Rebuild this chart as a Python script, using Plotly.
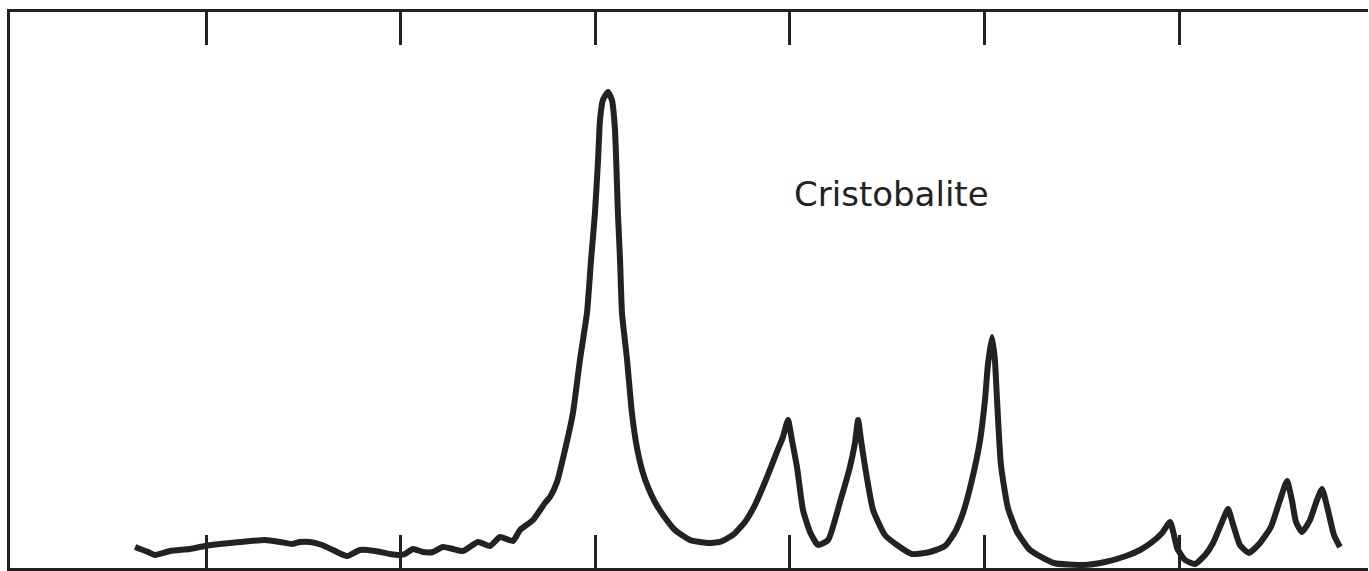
import plotly.graph_objects as go

# Diffraction pattern (arbitrary 2-theta-like units on x, relative intensity on y)
two_theta = [
    6.35, 7.02, 7.37, 8.15, 9.17, 9.94, 10.71, 11.74, 13.03, 13.80, 14.41, 14.82,
    15.34, 15.96, 16.62, 17.24, 17.91, 18.68, 19.45, 19.96, 20.22, 20.63, 21.15,
    21.66, 22.17, 22.69, 23.20, 23.97, 24.59, 25.10, 25.77, 26.13, 26.80, 27.41,
    27.67, 28.03, 28.44, 28.85, 29.21, 29.57, 29.78, 29.98, 30.14, 30.24, 30.39,
    30.65, 30.85, 31.01, 31.16, 31.27, 31.37, 31.63, 31.88, 32.14, 32.40, 32.70,
    33.06, 33.48, 34.09, 34.86, 35.74, 36.40, 37.07, 37.69, 38.20, 38.72, 39.33,
    39.64, 39.90, 40.10, 40.36, 40.67, 41.03, 41.44, 41.96, 42.57, 43.08, 43.34,
    43.50, 43.65, 43.86, 44.27, 44.88, 45.50, 46.27, 47.19, 47.97, 48.48, 48.89,
    49.35, 49.77, 50.02, 50.17, 50.38, 50.53, 50.64, 50.84, 51.20, 51.67, 52.33,
    53.56, 55.06, 56.19, 57.27, 57.99, 58.55, 59.12, 59.53, 59.73, 59.89, 60.30,
    60.81, 61.33, 61.74, 62.20, 62.51, 62.76, 63.12, 63.58, 64.15, 64.71, 65.18,
    65.54, 65.79, 66.00, 66.31, 66.72, 67.08, 67.34, 67.64, 67.95, 68.26,
]
intensity = [
    3.78, 2.88, 2.34, 3.06, 3.42, 3.96, 4.32, 4.68, 5.04, 4.68, 4.32, 4.68,
    4.68, 4.14, 3.06, 2.16, 3.24, 3.06, 2.52, 2.34, 2.52, 3.42, 2.88,
    2.88, 3.78, 3.42, 3.06, 4.68, 3.96, 5.58, 4.86, 6.84, 8.64, 11.69,
    12.77, 15.47, 21.23, 27.88, 37.42, 45.87, 55.40, 63.86, 73.39, 80.59, 84.19,
    85.63, 84.19, 78.79, 63.86, 55.40, 45.87, 37.42, 27.88, 21.58, 17.63, 14.57,
    11.87, 9.53, 6.84, 5.04, 4.50, 4.68, 5.94, 8.28, 11.33, 15.47, 20.87,
    23.57, 26.63, 23.03, 18.17, 10.43, 6.48, 4.14, 5.04, 11.87, 18.17, 22.49,
    26.63, 23.03, 18.17, 10.43, 5.94, 4.14, 2.52, 2.88, 3.96, 6.48, 9.89,
    15.83, 23.03, 30.22, 36.52, 41.56, 37.42, 30.22, 18.53, 10.79, 6.48, 3.24,
    0.90, 0.54, 1.08, 2.16, 3.24, 4.50, 6.30, 8.28, 5.94, 3.60, 1.44,
    0.72, 2.34, 4.50, 8.28, 10.61, 7.92, 4.14, 2.70, 4.50, 7.38, 12.23,
    15.65, 12.23, 8.28, 6.48, 8.64, 12.23, 14.21, 10.43, 5.94, 3.78,
]

tick_values = [10, 20, 30, 40, 50, 60]
label_text = "Cristobalite"
label_x, label_y = 45.2, 67.3

ink = "#222222"

fig = go.Figure()
fig.add_trace(go.Scatter(
    x=two_theta, y=intensity, mode="lines",
    line=dict(color=ink, width=6, shape="spline", smoothing=0.5),
    hoverinfo="skip", showlegend=False,
))

fig.add_annotation(
    x=label_x, y=label_y, text=label_text, showarrow=False,
    font=dict(family="DejaVu Sans, sans-serif", size=34, color=ink),
    xanchor="center", yanchor="middle",
)

fig.update_layout(
    width=1369, height=571,
    margin=dict(l=10, r=1, t=12, b=3),
    paper_bgcolor="white", plot_bgcolor="white",
    xaxis=dict(
        range=[-0.075, 69.70], tickvals=tick_values, showticklabels=False,
        ticks="inside", ticklen=33, tickwidth=3, tickcolor=ink,
        showline=True, linewidth=3, linecolor=ink, mirror="ticks",
        showgrid=False, zeroline=False,
    ),
    yaxis=dict(
        range=[0, 100], showticklabels=False, ticks="",
        showline=True, linewidth=3, linecolor=ink, mirror=False,
        showgrid=False, zeroline=False,
    ),
)

fig.write_html("out.html")
